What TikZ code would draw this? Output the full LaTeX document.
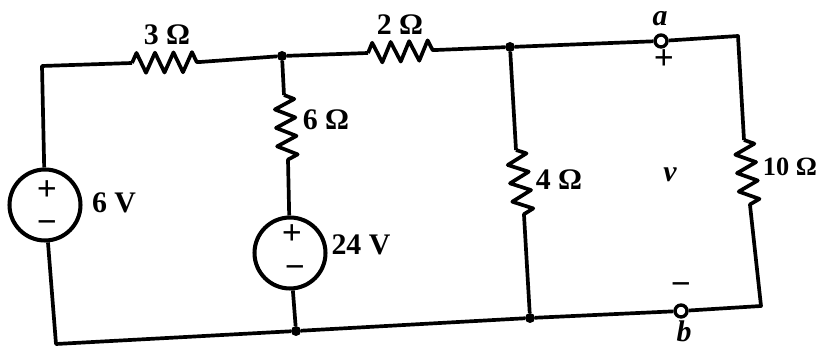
\documentclass[tikz,border=0pt]{standalone}
\usepackage{fontspec}
\setmainfont{Liberation Serif}
\usepackage{tikz}
\usetikzlibrary{decorations.pathmorphing}

\begin{document}
\begin{tikzpicture}[x=0.02cm, y=-0.02cm, line width=2.1pt, line join=round,
		res/.style={decorate, decoration={zigzag, segment length=0.37cm, amplitude=0.2cm}},
		source/.style={circle, draw, line width=2.3pt, fill=white, minimum size=1.42cm, inner sep=0pt},
		dot/.style={circle, fill, inner sep=0pt, outer sep=0pt, minimum size=0.2cm},
		terminal/.style={circle, draw, fill=white, line width=1.9pt, inner sep=0pt, minimum size=0.24cm},
		lbl/.style={inner sep=0pt, font=\fontsize{17}{19}\selectfont\bfseries},
		sign/.style={inner sep=0pt, font=\fontsize{20}{22}\selectfont\bfseries}]
		\useasboundingbox (0,0) rectangle (818,347);
		% corners and resistor ends
		\coordinate (tl) at (42,66);
		\coordinate (bl) at (56,344);
		\coordinate (tr) at (738,36);
		\coordinate (br) at (761,306);
		\coordinate (r3a) at (132,63);
		\coordinate (r3b) at (200,62);
		\coordinate (r2a) at (368,53);
		\coordinate (r2b) at (436,50);
		\coordinate (r6a) at (284,95);
		\coordinate (r6b) at (288,160);
		\coordinate (r4a) at (516,150);
		\coordinate (r4b) at (524,215);
		\coordinate (r10a) at (744,140);
		\coordinate (r10b) at (750,205);
		% sources, junctions, terminals
		\node[source] (vsa) at (45,205) {};
		\node[source] (vsb) at (290,253) {};
		\node[dot] (na) at (282,56) {};
		\node[dot] (nb) at (510,47) {};
		\node[dot] (nc) at (296,331) {};
		\node[dot] (nd) at (530,318) {};
		% wires
		\draw (vsa) -- (tl) -- (r3a);
		\draw[res] (r3a) -- (r3b);
		\draw (r3b) -- (na) -- (r2a);
		\draw[res] (r2a) -- (r2b);
		\draw (r2b) -- (nb);
		\draw (na) -- (r6a);
		\draw[res] (r6a) -- (r6b);
		\draw (r6b) -- (vsb);
		\draw (vsb) -- (nc);
		\draw (nb) -- (r4a);
		\draw[res] (r4a) -- (r4b);
		\draw (r4b) -- (nd);
		\draw (vsa) -- (bl) -- (nc) -- (nd);
		\node[terminal] (ta) at (661,41) {};
		\node[terminal] (tb) at (681,311) {};
		\draw (nb) -- (ta);
		\draw (ta) -- (tr) -- (r10a);
		\draw[res] (r10a) -- (r10b);
		\draw (r10b) -- (br) -- (tb);
		\draw (tb) -- (nd);
		% labels
		\node[lbl] (l3) at (167,35) {3 Ω};
		\node[lbl] (l2) at (400,25) {2 Ω};
		\node[lbl] (l6) at (326,120) {6 Ω};
		\node[lbl] (l4) at (559,180) {4 Ω};
		\node[lbl, font=\fontsize{15}{17}\selectfont\bfseries] (l10) at (790,167) {10 Ω};
		\node[lbl] (v6) at (114,203) {6 V};
		\node[lbl] (v24) at (361,245) {24 V};
		\node[sign] (pa) at (47,191) {+};
		\node[sign] (ma) at (47,227) {\textminus};
		\node[sign] (pb) at (292,235) {+};
		\node[sign] (mb) at (295,272) {\textminus};
		\node[lbl] (la) at (660,19) {\itshape a};
		\node[lbl] (lb) at (684,331) {\itshape b};
		\node[sign] (lp) at (664,60) {+};
		\node[sign] (lm) at (681,289) {\textminus};
		\node[lbl] (lv) at (670,175) {\itshape v};
	\end{tikzpicture}
\end{document}
